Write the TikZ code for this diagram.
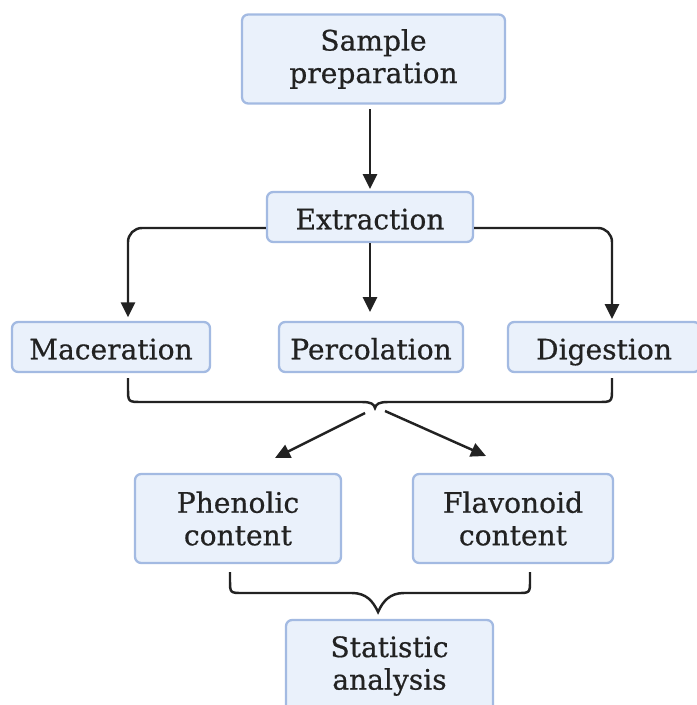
\documentclass[tikz,border=0pt]{standalone}
\usepackage{fontspec}
\setmainfont{DejaVu Serif}[FakeBold=0.6]
\usetikzlibrary{arrows.meta}
\definecolor{boxfill}{HTML}{EAF1FB}
\definecolor{boxline}{HTML}{A3BAE2}
\definecolor{ink}{HTML}{222222}
\begin{document}
\begin{tikzpicture}[
  x=0.02cm, y=-0.02cm,
  font=\fontsize{16}{18.5}\selectfont,
  stage/.style={
    rectangle, rounded corners=3.5pt, draw=boxline, fill=boxfill,
    line width=1.3pt, align=center, inner sep=2pt, text=ink
  },
  single/.style={stage, minimum height=1.0cm, text height=17.5pt, text depth=3.5pt},
  double/.style={stage, minimum height=1.78cm},
  arrow/.style={-{Triangle[length=3mm, width=2.8mm]}, ink, line width=1.4pt},
  brace/.style={ink, line width=1.4pt},
]
\useasboundingbox (0,0) rectangle (696,705);

% Top of the flow
\node[double, minimum width=5.26cm] (prep) at (373.5, 59) {Sample\\preparation};
\node[single, minimum width=4.12cm] (extract) at (370, 217) {Extraction};

% Three extraction methods
\node[single, minimum width=3.96cm] (macer) at (111, 347) {Maceration};
\node[single, minimum width=3.68cm] (percol) at (371, 347) {Percolation};
\node[single, minimum width=3.84cm] (digest) at (604, 347) {Digestion};

% Assays and analysis
\node[double, minimum width=4.12cm] (phenol) at (238, 518.5) {Phenolic\\content};
\node[double, minimum width=4.0cm] (flavon) at (513, 518.5) {Flavonoid\\content};
\node[double, minimum width=4.14cm, minimum height=1.84cm] (stats) at (389.5, 666) {Statistic\\analysis};

% Arrows out of the first two steps
\draw[arrow, shorten <=2.5pt, shorten >=1pt] (extract.north |- prep.south) -- (extract.north);
\draw[arrow, rounded corners=8pt, shorten >=2pt] ([yshift=-0.22cm]extract.west) -| ([xshift=0.34cm]macer.north);
\draw[arrow, shorten >=5pt] (extract.south) -- (extract.south |- percol.north);
\draw[arrow, rounded corners=8pt, shorten >=1pt] ([yshift=-0.22cm]extract.east) -| ([xshift=0.16cm]digest.north);

% Brace under the methods
\coordinate (fork) at (375, 408);
\draw[brace] (128,378) -- (128,388) .. controls (128,402) .. (142,402) -- (362,402)
  .. controls (371,402) and (374,404) .. (fork)
  .. controls (376,404) and (379,402) .. (388,402) -- (598,402)
  .. controls (612,402) .. (612,388) -- (612,378);
\coordinate (phenTip) at (275, 458);
\coordinate (flavTip) at (486, 456);
\draw[arrow] (365, 413) -- (phenTip);
\draw[arrow] (385, 411) -- (flavTip);

% Brace under the assays
\coordinate (join) at (378, 612);
\draw[brace] (230,572) -- (230,580) .. controls (230,593) .. (243,593) -- (352,593)
  .. controls (366,593) and (373,601) .. (join)
  .. controls (383,601) and (390,593) .. (404,593) -- (517,593)
  .. controls (530,593) .. (530,580) -- (530,572);

\end{tikzpicture}
\end{document}
